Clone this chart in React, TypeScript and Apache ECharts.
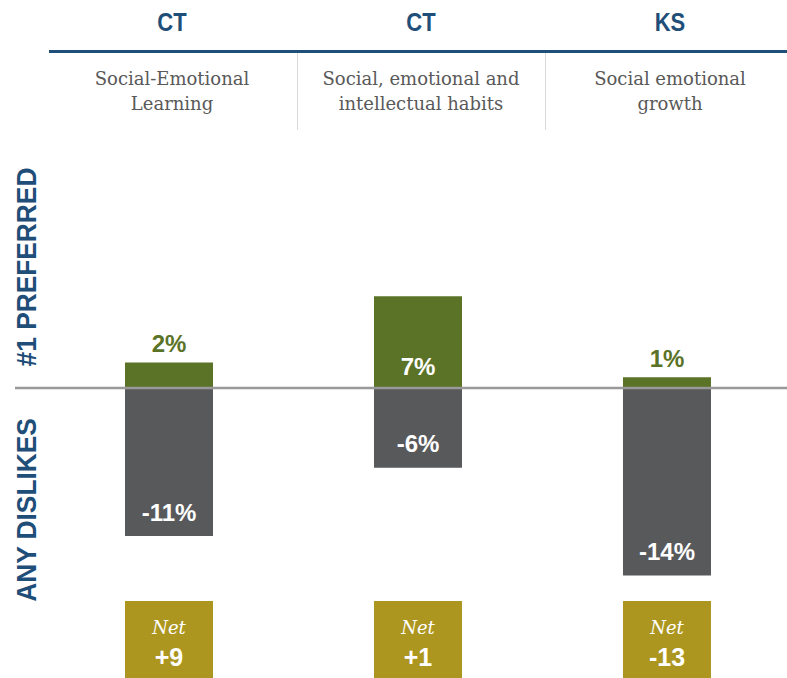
import React, { useEffect, useRef } from "react";
import * as echarts from "echarts";

const states = ["CT", "CT", "KS"];
const subtitles = [
  "Social-Emotional\nLearning",
  "Social, emotional and\nintellectual habits",
  "Social emotional\ngrowth",
];
const preferred = [1.9, 6.85, 0.8];
const dislikes = [-11.05, -5.95, -14.0];
const netLabels = ["+9", "+1", "-13"];
const prefLabelInside = [false, true, false];

const BLUE = "#1F4E79";
const GREEN = "#5B7327";
const GREY = "#58595B";
const OLIVE = "#AD961F";
const TEXTGREY = "#595959";

export default function App() {
  const ref = useRef<HTMLDivElement>(null);
  useEffect(() => {
    if (!ref.current) return;
    const chart = echarts.init(ref.current, undefined, { renderer: "svg" });
    const zeroY = 388;
    const k = 13.4;
    const yMax = 10;
    const yMin = -16;
    const option: any = {
      animation: false,
      grid: { left: 44.5, right: 0, top: zeroY - yMax * k, height: (yMax - yMin) * k },
      xAxis: { type: "value", min: -0.5, max: 2.482, show: false },
      yAxis: { type: "value", min: yMin, max: yMax, show: false },
      series: [
        {
          type: "bar",
          stack: "total",
          barWidth: 88,
          itemStyle: { color: GREEN },
          data: preferred.map((v, i) => ({
            value: [i, v],
            label: prefLabelInside[i]
              ? { show: true, position: "insideBottom", distance: 10, color: "#fff" }
              : { show: true, position: "top", distance: 7, color: GREEN },
          })),
          label: {
            fontFamily: "Liberation Sans",
            fontWeight: "bold",
            fontSize: 24,
            formatter: (p: any) => Math.round(p.value[1]) + "%",
          },
        },
        {
          type: "bar",
          stack: "total",
          barWidth: 88,
          itemStyle: { color: GREY },
          data: dislikes.map((v, i) => [i, v]),
          label: {
            show: true,
            position: "insideBottom",
            distance: 12,
            color: "#fff",
            fontFamily: "Liberation Sans",
            fontWeight: "bold",
            fontSize: 24,
            formatter: (p: any) => Math.round(p.value[1]) + "%",
          },
        },
        {
          type: "custom",
          clip: false,
          data: netLabels.map((_, i) => [i, 0]),
          renderItem: (params: any, api: any) => {
            const x = api.coord([api.value(0), 0])[0];
            const i = params.dataIndex;
            return {
              type: "group",
              children: [
                { type: "rect", shape: { x: x - 44, y: 601, width: 88, height: 77 }, style: { fill: OLIVE } },
                {
                  type: "text",
                  style: {
                    text: "Net",
                    x,
                    y: 627,
                    align: "center",
                    verticalAlign: "middle",
                    fill: "#fff",
                    font: "italic 18px 'DejaVu Serif'",
                  },
                },
                {
                  type: "text",
                  style: {
                    text: netLabels[i],
                    x,
                    y: 657,
                    align: "center",
                    verticalAlign: "middle",
                    fill: "#fff",
                    font: "bold 25px 'Liberation Sans'",
                  },
                },
              ],
            };
          },
        },
      ],
    };
    chart.setOption(option);
    const centers = states.map((_, i) => chart.convertToPixel({ xAxisIndex: 0 }, i) as number);
    const graphic: any[] = [
      { type: "line", shape: { x1: 49, y1: 51.5, x2: 787, y2: 51.5 }, style: { stroke: BLUE, lineWidth: 3 } },
      { type: "line", shape: { x1: 297.5, y1: 53, x2: 297.5, y2: 130 }, style: { stroke: "#DADADA", lineWidth: 1 } },
      { type: "line", shape: { x1: 545.5, y1: 53, x2: 545.5, y2: 130 }, style: { stroke: "#DADADA", lineWidth: 1 } },
      { type: "line", z: 100, shape: { x1: 15, y1: zeroY, x2: 787, y2: zeroY }, style: { stroke: "#999999", lineWidth: 2.5 } },
      {
        type: "text",
        x: 26,
        y: 267,
        rotation: Math.PI / 2,
        scaleX: 0.94,
        style: {
          text: "#1 PREFERRED",
          align: "center",
          verticalAlign: "middle",
          fill: BLUE,
          font: "bold 28px 'Liberation Sans'",
        },
      },
      {
        type: "text",
        x: 26,
        y: 510,
        rotation: Math.PI / 2,
        scaleX: 0.94,
        style: {
          text: "ANY DISLIKES",
          align: "center",
          verticalAlign: "middle",
          fill: BLUE,
          font: "bold 28px 'Liberation Sans'",
        },
      },
    ];
    centers.forEach((cx, i) => {
      graphic.push({
        type: "text",
        x: cx + 3,
        y: 23,
        scaleX: 0.88,
        style: {
          text: states[i],
          align: "center",
          verticalAlign: "middle",
          fill: BLUE,
          font: "bold 25px 'Liberation Sans'",
        },
      });
      graphic.push({
        type: "text",
        x: cx + 3,
        y: 91,
        style: {
          text: subtitles[i],
          align: "center",
          verticalAlign: "middle",
          fill: TEXTGREY,
          font: "18px 'DejaVu Serif'",
          lineHeight: 25,
        },
      });
    });
    chart.setOption({ graphic });
    return () => chart.dispose();
  }, []);
  return (
    <div
      ref={ref}
      style={{ position: "fixed", left: 0, top: 0, width: 787, height: 678, background: "#fff" }}
    />
  );
}
